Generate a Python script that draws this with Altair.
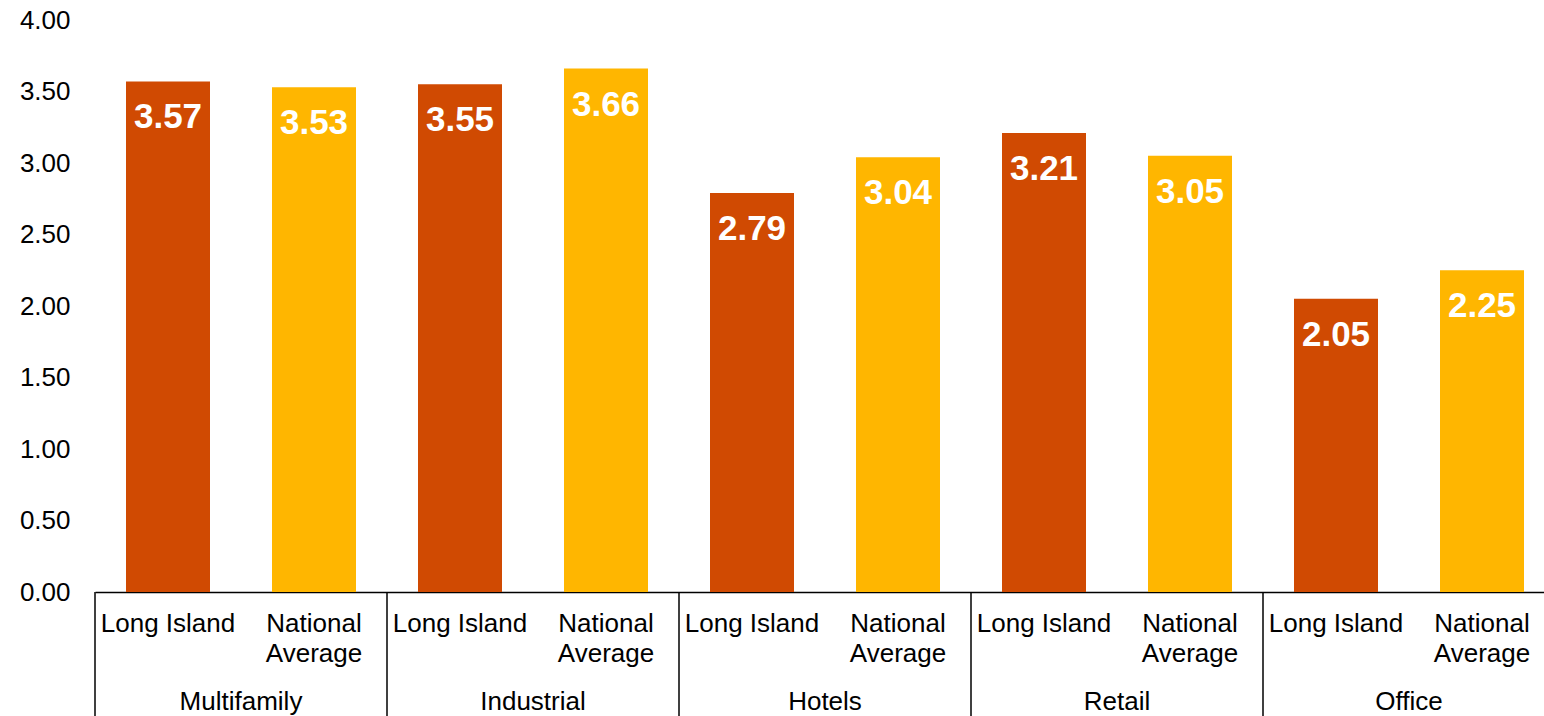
import altair as alt
import pandas as pd

categories = ["Multifamily", "Industrial", "Hotels", "Retail", "Office"]
series_names = ["Long Island", "National Average"]
series_labels = ["Long Island", "National\nAverage"]
long_island = [3.57, 3.55, 2.79, 3.21, 2.05]
national = [3.53, 3.66, 3.04, 3.05, 2.25]
y_ticks = [0.0, 0.5, 1.0, 1.5, 2.0, 2.5, 3.0, 3.5, 4.0]
colors = ["#D04A02", "#FFB600"]

rows = []
for c, li, na in zip(categories, long_island, national):
    for s, lab, v in zip(series_names, series_labels, [li, na]):
        rows.append({"category": c, "series": s, "label": lab, "value": v, "slot": f"{c}|{s}"})
df = pd.DataFrame(rows)
slots = list(df["slot"])
firsts = df[df["series"] == "Long Island"]

W, H = 1449, 572
STEP = 146
FONT = "Liberation Sans"

x_scale = alt.Scale(domain=slots, range=[0, STEP * len(slots)],
                    paddingInner=62 / 146, paddingOuter=31 / 146)
x_enc = alt.X("slot:N", scale=x_scale,
              axis=alt.Axis(labels=False, ticks=False, title=None,
                            domainColor="black", domainWidth=1.5))
y_enc = alt.Y("value:Q", scale=alt.Scale(domain=[0, 4], nice=False),
              axis=alt.Axis(values=y_ticks, format=".2f", grid=False, domain=False,
                            ticks=False, labelPadding=25, labelFontSize=26,
                            labelColor="black", labelFont=FONT, title=None))

bars = alt.Chart(df).mark_bar().encode(
    x=x_enc, y=y_enc,
    color=alt.Color("series:N", scale=alt.Scale(domain=series_names, range=colors), legend=None),
)

values = alt.Chart(df).mark_text(
    baseline="alphabetic", dy=47, fontSize=35, fontWeight="bold", color="white", font=FONT
).encode(x=x_enc, y=y_enc, text=alt.Text("value:Q", format=".2f"))

sublabels = alt.Chart(df).mark_text(
    baseline="alphabetic", align="center", fontSize=26, lineBreak="\n", lineHeight=30,
    color="black", font=FONT
).encode(x=x_enc, y=alt.value(H + 40), text="label:N")

catlabels = alt.Chart(firsts).mark_text(
    baseline="alphabetic", align="center", fontSize=26, color="black", font=FONT, xOffset=STEP / 2
).encode(x=x_enc, y=alt.value(H + 118), text="category:N")

separators = alt.Chart(firsts).mark_rule(
    color="black", strokeWidth=1.5, xOffset=-STEP / 2
).encode(x=x_enc, y=alt.value(H), y2=alt.value(H + 124))

chart = alt.layer(bars, values, sublabels, catlabels, separators).properties(
    width=W, height=H,
    autosize=alt.AutoSizeParams(type="none"),
    padding={"left": 95, "top": 20, "right": 0, "bottom": 124},
    background="white",
).configure_view(stroke=None)

chart.save("out.html", embed_options={"renderer": "svg", "actions": False})
